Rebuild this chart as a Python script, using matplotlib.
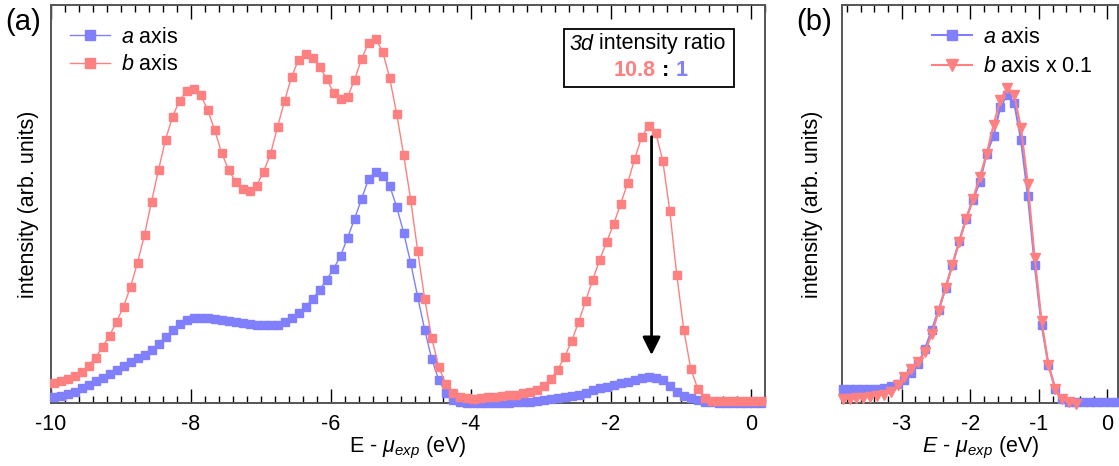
import numpy as np
import matplotlib
matplotlib.use("Agg")
import matplotlib.pyplot as plt
from matplotlib.ticker import MultipleLocator, FixedLocator
from matplotlib.patches import Rectangle

plt.rcParams['font.family'] = ['Liberation Sans', 'DejaVu Sans']
plt.rcParams['mathtext.fontset'] = 'custom'
plt.rcParams['mathtext.rm'] = 'Liberation Sans'
plt.rcParams['mathtext.it'] = 'Liberation Sans:italic'
plt.rcParams['mathtext.bf'] = 'Liberation Sans:bold'

# ---------------- data ----------------
# panel (a): energy grid, 0.1 eV steps
energy_a = np.round(np.linspace(-9.96, 0.14, 102), 2)
b_axis_a = [
    0.20, 0.22, 0.24, 0.27, 0.31, 0.37, 0.45, 0.56, 0.67, 0.81,
    0.96, 1.16, 1.40, 1.68, 2.01, 2.33, 2.63, 2.86, 3.02, 3.12,
    3.14, 3.08, 2.93, 2.73, 2.50, 2.33, 2.21, 2.14, 2.12, 2.17,
    2.31, 2.49, 2.76, 3.02, 3.26, 3.43, 3.49, 3.45, 3.36, 3.24,
    3.10, 3.04, 3.06, 3.23, 3.44, 3.60, 3.64, 3.51, 3.25, 2.89,
    2.48, 2.03, 1.52, 1.04, 0.65, 0.36, 0.19, 0.10, 0.06, 0.05,
    0.04, 0.05, 0.06, 0.06, 0.07, 0.08, 0.08, 0.10, 0.11, 0.13,
    0.17, 0.24, 0.33, 0.46, 0.62, 0.81, 1.02, 1.23, 1.43, 1.61,
    1.79, 1.99, 2.20, 2.44, 2.66, 2.77, 2.70, 2.42, 1.92, 1.28,
    0.73, 0.34, 0.14, 0.05, 0.02, 0.015, 0.015, 0.015, 0.015, 0.015,
    0.015, 0.015]
a_axis_a = [
    0.06, 0.07, 0.09, 0.11, 0.15, 0.18, 0.22, 0.25, 0.29, 0.33,
    0.37, 0.41, 0.45, 0.48, 0.53, 0.59, 0.66, 0.73, 0.79, 0.83,
    0.85, 0.85, 0.85, 0.84, 0.83, 0.82, 0.81, 0.80, 0.79, 0.78,
    0.78, 0.78, 0.78, 0.81, 0.85, 0.90, 0.96, 1.04, 1.13, 1.23,
    1.34, 1.47, 1.65, 1.84, 2.04, 2.24, 2.31, 2.27, 2.17, 1.96,
    1.70, 1.40, 1.06, 0.73, 0.44, 0.23, 0.10, 0.03, 0.01, 0.00,
    0.00, 0.00, 0.00, 0.00, 0.00, 0.00, 0.01, 0.01, 0.01, 0.02,
    0.03, 0.04, 0.05, 0.06, 0.07, 0.08, 0.10, 0.13, 0.15, 0.16,
    0.18, 0.20, 0.21, 0.23, 0.25, 0.26, 0.25, 0.23, 0.17, 0.11,
    0.07, 0.05, 0.03, 0.01, 0.01, 0.00, 0.00, 0.00, 0.00, 0.00,
    0.00, 0.00]

# panel (b)
energy_b = np.round(np.linspace(-3.86, 0.14, 41), 2)
a_axis_b = [
    0.14, 0.14, 0.14, 0.14, 0.14, 0.14, 0.15, 0.17, 0.19, 0.23,
    0.30, 0.39, 0.54, 0.73, 0.93, 1.15, 1.38, 1.62, 1.84, 2.03,
    2.21, 2.49, 2.67, 2.96, 3.08, 3.00, 2.63, 2.07, 1.38, 0.78,
    0.38, 0.14, 0.04, 0.01, 0.01, 0.01, 0.01, 0.01, 0.01, 0.01,
    0.01]
b_axis_b_scaled = [
    0.04, 0.04, 0.05, 0.05, 0.06, 0.07, 0.08, 0.11, 0.18, 0.26,
    0.34, 0.41, 0.51, 0.69, 0.92, 1.15, 1.38, 1.61, 1.84, 2.04,
    2.26, 2.49, 2.78, 3.03, 3.15, 3.08, 2.75, 2.19, 1.45, 0.82,
    0.38, 0.14, 0.04, 0.01, -0.01]

ticks_a = [-10, -8, -6, -4, -2, 0]
tick_labels_a = ['-10', '-8', '-6', '-4', '-2', '0']
ticks_b = [-3, -2, -1, 0]
tick_labels_b = ['-3', '-2', '-1', '0']

BLUE = '#8080ff'
RED = '#ff8080'
FS = 15.5

W, H = 1119, 466
fig = plt.figure(figsize=(W / 100, H / 100), dpi=100)

def frac_x(px):
    return px / W

def frac_y(py):
    return 1 - py / H

ax_top, ax_bot = 5.0, 402.7
axa = fig.add_axes([frac_x(50.7), frac_y(ax_bot), (765 - 50.7) / W, (ax_bot - ax_top) / H])
axb = fig.add_axes([frac_x(842.3), frac_y(ax_bot), (1118.3 - 842.3) / W, (ax_bot - ax_top) / H])

def style(ax, minor, ticks, labels):
    for s in ax.spines.values():
        s.set_color('#555555')
        s.set_linewidth(1.4)
    ax.xaxis.set_major_locator(FixedLocator(ticks))
    ax.set_xticklabels(labels)
    ax.xaxis.set_minor_locator(MultipleLocator(minor))
    ax.tick_params(axis='x', which='both', direction='in', top=True, bottom=True,
                   color='k', width=1, labelsize=FS, pad=8)
    ax.tick_params(axis='x', which='major', length=10)
    ax.tick_params(axis='x', which='minor', length=5)
    ax.tick_params(axis='y', which='both', left=False, right=False, labelleft=False)
    ax.set_yticks([])

# ---- panel (a)
axa.plot(energy_a, a_axis_a, '-s', color=BLUE, lw=1, ms=6.3, mec=BLUE,
         label='$a$ axis', clip_on=False, zorder=3)
axa.plot(energy_a, b_axis_a, '-s', color=RED, lw=1, ms=6.3, mec=RED,
         label='$b$ axis', clip_on=False, zorder=4)
axa.set_xlim(-10, 0.2)
axa.set_ylim(0, 3.977)
style(axa, 0.2, ticks_a, tick_labels_a)
axa.set_xlabel(r'E - $\mu_{exp}$ (eV)', fontsize=FS, labelpad=0)
axa.set_ylabel('intensity (arb. units)', fontsize=FS)
axa.yaxis.set_label_coords(-0.016, 0.5)

axa.legend(loc='upper left', bbox_to_anchor=(0.027, 0.945), frameon=False,
           fontsize=FS, handlelength=1.86, handletextpad=0.5,
           labelspacing=0.3, borderpad=0, borderaxespad=0, markerscale=1.15)

axa.annotate('', xy=(-1.42, 0.477), xytext=(-1.42, 2.66),
             arrowprops=dict(arrowstyle='-|>,head_length=1.08,head_width=0.54',
                             color='k', lw=2, shrinkA=0, shrinkB=0), zorder=6)

# intensity ratio box
def ax_frac(px, py):
    return ((px - 50.7) / (765 - 50.7), (ax_bot - py) / (ax_bot - ax_top))

x0, y0 = ax_frac(564, 87)
x1, y1 = ax_frac(734, 29)
axa.add_patch(Rectangle((x0, y0), x1 - x0, y1 - y0, transform=axa.transAxes,
                        fill=True, facecolor='white', edgecolor='k', lw=1.3, zorder=7))
ix, cy = ax_frac(594, 44)
axa.text(ix, cy, '3d', transform=axa.transAxes, ha='right', va='center',
         fontsize=FS, fontstyle='italic', zorder=8)
tx, _ = ax_frac(599, 44)
axa.text(tx, cy, 'intensity ratio', transform=axa.transAxes, ha='left',
         va='center', fontsize=FS, zorder=8)
mx, my = ax_frac(665.7, 71)
axa.text(mx, my, ':', transform=axa.transAxes, ha='center', va='center',
         fontsize=FS, fontweight='bold', color='k', zorder=8)
lx, _ = ax_frac(656, 71)
axa.text(lx, my, '10.8', transform=axa.transAxes, ha='right', va='center',
         fontsize=FS, fontweight='bold', color=RED, zorder=8)
rx, _ = ax_frac(676, 71)
axa.text(rx, my, '1', transform=axa.transAxes, ha='left', va='center',
         fontsize=FS, fontweight='bold', color=BLUE, zorder=8)

# ---- panel (b)
axb.plot(energy_b, a_axis_b, '-s', color=BLUE, lw=1.5, ms=5.5, mec=BLUE,
         label='$a$ axis', clip_on=False, zorder=3)
axb.plot(energy_b[:len(b_axis_b_scaled)], b_axis_b_scaled, '-v', color=RED, lw=1.5,
         ms=6.5, mec=RED, label='$b$ axis x 0.1', clip_on=False, zorder=4)
axb.set_xlim(-3.867, 0.16)
axb.set_ylim(0, 3.977)
style(axb, 0.2, ticks_b, tick_labels_b)
axb.set_xlabel(r'$E$ - $\mu_{exp}$ (eV)', fontsize=FS, labelpad=0)
axb.set_ylabel('intensity (arb. units)', fontsize=FS)
axb.yaxis.set_label_coords(-0.069, 0.5)
axb.legend(loc='upper left', bbox_to_anchor=(0.325, 0.945), frameon=False,
           fontsize=FS, handlelength=1.86, handletextpad=0.5,
           labelspacing=0.4, borderpad=0, borderaxespad=0, markerscale=1.3)

fig.text(frac_x(5), frac_y(22), '(a)', fontsize=21, ha='left', va='center')
fig.text(frac_x(796), frac_y(22), '(b)', fontsize=21, ha='left', va='center')

fig.savefig('out.png', dpi=100)
